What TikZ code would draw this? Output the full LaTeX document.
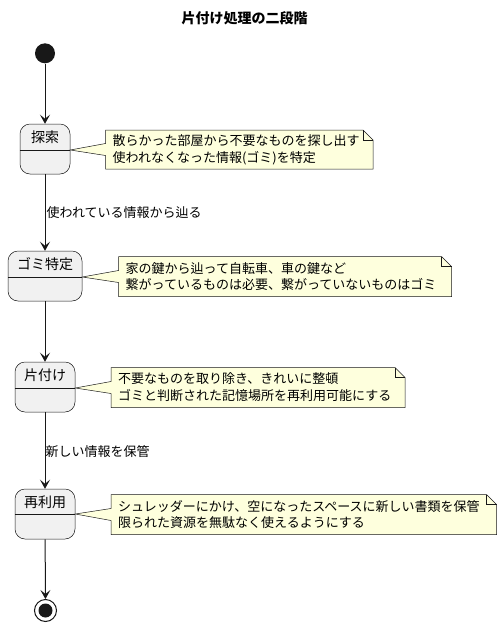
\documentclass[tikz,border=0pt]{standalone}
\usepackage{fontspec}
\setmainfont{Noto Sans CJK JP}
\usetikzlibrary{arrows.meta}
\definecolor{linec}{HTML}{181818}
\definecolor{statefill}{HTML}{F1F1F1}
\definecolor{notefill}{HTML}{FEFFDD}
\tikzset{
  statebox/.style={draw=linec, line width=0.5pt, fill=statefill, rounded corners=10pt, inner sep=0pt},
  statelabel/.style={font=\fontsize{14}{16}\selectfont, inner sep=0pt, text=black},
  notebox/.style={draw=linec, line width=0.5pt, fill=notefill},
  notetext/.style={font=\fontsize{13}{16.8}\selectfont, align=left, inner sep=0pt, text=black},
  edgelabel/.style={font=\fontsize{13}{16}\selectfont, inner sep=0pt, anchor=west, text=black},
  flow/.style={draw=linec, line width=1pt, -{Stealth[length=9pt, width=10pt, inset=4pt]}},
}
\newcommand{\mynote}[7]{% #1 name, #2 state tip, #3 x1, #4 y1, #5 x2, #6 y2, #7 text
  \draw[notebox] (#3,#4) -- ({#5-10},#4) -- (#5,{#4+10}) -- (#5,#6) -- (#3,#6)
     -- (#3,{(#4+#6)/2+6}) -- (#2) -- (#3,{(#4+#6)/2-6}) -- cycle;
  \draw[notebox, fill=none] ({#5-10},#4) -- ({#5-10},{#4+10}) -- (#5,{#4+10});
  \node[notetext, anchor=west] (#1) at ({#3+7},{(#4+#6)/2}) {#7};
}
\begin{document}
\begin{tikzpicture}[x=1pt,y=-1pt]
\useasboundingbox[fill=white] (0,0) rectangle (502,627);

\node[font=\fontsize{14}{16}\selectfont\bfseries, inner sep=0pt] (title) at (244.7,18.3) {片付け処理の二段階};

% start
\node[circle, fill=linec, minimum size=20pt, inner sep=0pt] (start) at (45,53.3) {};

% states
\node[statebox, minimum width=50pt, minimum height=50pt] (s1) at (45,149) {};
\node[statelabel] (s1l) at (45,137) {探索};
\draw[linec, line width=0.5pt] (s1.west |- 0,150) -- (s1.east |- 0,150);
\coordinate (s1tip) at (s1.east |- 0,150);

\node[statebox, minimum width=74pt, minimum height=50pt] (s2) at (45,276) {};
\node[statelabel] (s2l) at (45,264) {ゴミ特定};
\draw[linec, line width=0.5pt] (s2.west |- 0,277) -- (s2.east |- 0,277);
\coordinate (s2tip) at (s2.east |- 0,277);

\node[statebox, minimum width=60pt, minimum height=50pt] (s3) at (45,387) {};
\node[statelabel] (s3l) at (45,375) {片付け};
\draw[linec, line width=0.5pt] (s3.west |- 0,388) -- (s3.east |- 0,388);
\coordinate (s3tip) at (s3.east |- 0,388);

\node[statebox, minimum width=60pt, minimum height=50pt] (s4) at (45,514) {};
\node[statelabel] (s4l) at (45,502) {再利用};
\draw[linec, line width=0.5pt] (s4.west |- 0,514) -- (s4.east |- 0,514);
\coordinate (s4tip) at (s4.east |- 0,514);

% end
\node[circle, draw=linec, line width=1pt, fill=white, minimum size=22pt, inner sep=0pt] (end) at (45.5,610.5) {};
\node[circle, fill=linec, minimum size=14pt, inner sep=0pt] (endin) at (end.center) {};

% flows
\draw[flow] (start) -- (s1);
\draw[flow] (s1) -- (s2);
\draw[flow] (s2) -- (s3);
\draw[flow] (s3) -- (s4);
\draw[flow] (s4) -- (end);

\node[edgelabel] (e1) at (46.5,212.5) {使われている情報から辿る};
\node[edgelabel] (e2) at (45.5,451.5) {新しい情報を保管};

% notes
\mynote{n1}{s1tip}{105.5}{130}{373}{169}{散らかった部屋から不要なものを探し出す\\使われなくなった情報(ゴミ)を特定}
\mynote{n2}{s2tip}{118.5}{256.5}{451.5}{296.5}{家の鍵から辿って自転車、車の鍵など\\繋がっているものは必要、繋がっていないものはゴミ}
\mynote{n3}{s3tip}{111}{367.5}{405}{407.5}{不要なものを取り除き、きれいに整頓\\ゴミと判断された記憶場所を再利用可能にする}
\mynote{n4}{s4tip}{111}{494.5}{496.5}{534.5}{シュレッダーにかけ、空になったスペースに新しい書類を保管\\限られた資源を無駄なく使えるようにする}
\end{tikzpicture}
\end{document}
